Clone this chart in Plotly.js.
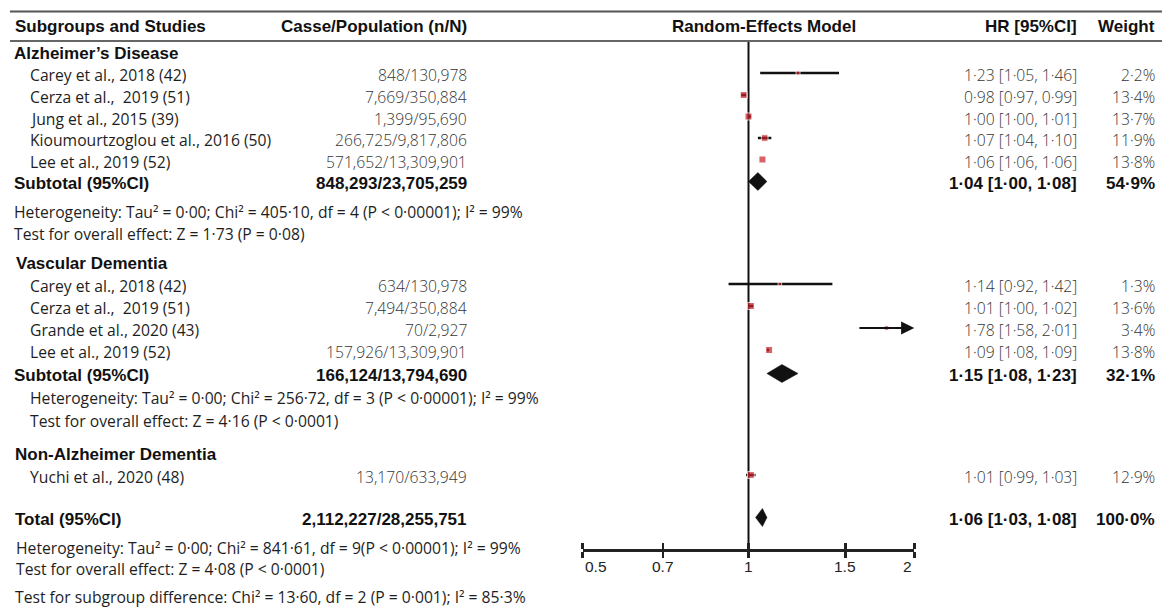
<!DOCTYPE html>
<html><head><meta charset="utf-8">
<script src="https://cdn.plot.ly/plotly-3.0.1.min.js"></script>
<style>html,body{margin:0;padding:0;background:#fff}#chart{width:1162px;height:609px}</style>
</head><body><div id="chart"></div>
<script>
// ---------------- data ----------------
const groups = ["Alzheimer’s Disease", "Vascular Dementia", "Non-Alzheimer Dementia"];
const studies = ["Carey et al., 2018 (42)", "Cerza et al.,\u00a0 2019 (51)", "Jung et al., 2015 (39)",
  "Kioumourtzoglou et al., 2016 (50)", "Lee et al., 2019 (52)",
  "Carey et al., 2018 (42)", "Cerza et al.,\u00a0 2019 (51)", "Grande et al., 2020 (43)", "Lee et al., 2019 (52)",
  "Yuchi et al., 2020 (48)"];
const cases = ["848/130,978", "7,669/350,884", "1,399/95,690", "266,725/9,817,806", "571,652/13,309,901",
  "634/130,978", "7,494/350,884", "70/2,927", "157,926/13,309,901", "13,170/633,949"];
const hr = [1.23, 0.98, 1.00, 1.07, 1.06, 1.14, 1.01, 1.78, 1.09, 1.01];
const hrLo = [1.05, 0.97, 1.00, 1.04, 1.06, 0.92, 1.00, 1.58, 1.08, 0.99];
const hrHi = [1.46, 0.99, 1.01, 1.10, 1.06, 1.42, 1.02, 2.01, 1.09, 1.03];
const weight = [2.2, 13.4, 13.7, 11.9, 13.8, 1.3, 13.6, 3.4, 13.8, 12.9];
const pooledLabels = ["Subtotal (95%CI)", "Subtotal (95%CI)", "Total (95%CI)"];
const pooledCases = ["848,293/23,705,259", "166,124/13,794,690", "2,112,227/28,255,751"];
const pooledHr = [1.04, 1.15, 1.06];
const pooledLo = [1.00, 1.08, 1.03];
const pooledHi = [1.08, 1.23, 1.08];
const pooledWeight = [54.9, 32.1, 100.0];
const hetText = [
  "Heterogeneity: Tau² = 0·00; Chi² = 405·10, df = 4 (P < 0·00001); I² = 99%",
  "Heterogeneity: Tau² = 0·00; Chi² = 256·72, df = 3 (P < 0·00001); I² = 99%",
  "Heterogeneity: Tau² = 0·00; Chi² = 841·61, df = 9(P < 0·00001); I² = 99%"];
const overallText = [
  "Test for overall effect: Z = 1·73 (P = 0·08)",
  "Test for overall effect: Z = 4·16 (P < 0·0001)",
  "Test for overall effect: Z = 4·08 (P < 0·0001)"];
const subgroupText = "Test for subgroup difference: Chi² = 13·60, df = 2 (P = 0·001); I² = 85·3%";
const headers = ["Subgroups and Studies", "Casse/Population (n/N)", "Random-Effects Model", "HR [95%CI]", "Weight"];
const tickVals = [0.5, 0.7, 1, 1.5, 2];
const tickText = ["0.5", "0.7", "1", "1.5", "2"];
const xMin = 0.5, xMax = 2;

// ---------------- layout (pixel positions) ----------------
const W = 1162, H = 609;
const studyRowY = [75, 97, 118.5, 140, 161.5, 286, 308, 330, 352, 477];
const groupHeadY = [53, 263, 454];
const groupHeadX = [12, 14, 13];
const pooledRowY = [183, 375, 519];
const pooledX = [12, 12, 13];
const hetY = [212, 398, 548], overallY = [234, 421, 569], textIndent = [12, 28, 14];
const subgroupY = 597;
const markShift = -2;
const axisY = 550, headY = 26, line1Y = 11.5, line2Y = 41;
const colCasesR = 469, colHrR = 1079, colWR = 1157, studyX = 28;
const plotL = 582.7, plotR = 914.3;

const REG = "Open Sans, Noto Sans, sans-serif";
const BOLD = "Liberation Sans, Arial, sans-serif";
const fmt2 = v => v.toFixed(2).replace('.', '·');
const fmt1 = v => v.toFixed(1).replace('.', '·');
const ciTxt = (e, l, h) => `${fmt2(e)} [${fmt2(l)}, ${fmt2(h)}]`;

const ann = [];
function txt(x, y, text, opt) {
  ann.push(Object.assign({xref: 'x', yref: 'y', x: x, y: y, text: text, showarrow: false,
    xanchor: 'left', yanchor: 'middle', font: {family: REG, size: 15.7, color: '#1e1e1e'}}, opt || {}));
}
const boldFont = {family: BOLD, size: 17, color: '#111'};
const valFont = {family: REG, size: 15.7, color: '#363636', weight: 300};

// headers
txt(12.5, headY, '<b>' + headers[0] + '</b>', {font: boldFont});
txt(colCasesR, headY, '<b>' + headers[1] + '</b>', {font: boldFont, xanchor: 'right'});
txt(763.5, headY, '<b>' + headers[2] + '</b>', {font: boldFont, xanchor: 'center'});
txt(colHrR, headY, '<b>' + headers[3] + '</b>', {font: boldFont, xanchor: 'right'});
txt(colWR, headY, '<b>' + headers[4] + '</b>', {font: boldFont, xanchor: 'right'});

groups.forEach((g, i) => txt(groupHeadX[i], groupHeadY[i], '<b>' + g + '</b>', {font: boldFont}));
studies.forEach((s, i) => {
  txt(studyX, studyRowY[i], s);
  txt(colCasesR, studyRowY[i], cases[i], {xanchor: 'right', font: valFont});
  txt(colHrR, studyRowY[i], ciTxt(hr[i], hrLo[i], hrHi[i]), {xanchor: 'right', font: valFont});
  txt(colWR, studyRowY[i], fmt1(weight[i]) + '%', {xanchor: 'right', font: valFont});
});
pooledLabels.forEach((p, i) => {
  txt(pooledX[i], pooledRowY[i], '<b>' + p + '</b>', {font: boldFont});
  txt(colCasesR, pooledRowY[i], '<b>' + pooledCases[i] + '</b>', {font: boldFont, xanchor: 'right'});
  txt(colHrR, pooledRowY[i], '<b>' + ciTxt(pooledHr[i], pooledLo[i], pooledHi[i]) + '</b>', {font: boldFont, xanchor: 'right'});
  txt(colWR, pooledRowY[i], '<b>' + fmt1(pooledWeight[i]) + '%</b>', {font: boldFont, xanchor: 'right'});
});
hetText.forEach((t, i) => txt(textIndent[i], hetY[i], t));
overallText.forEach((t, i) => txt(textIndent[i], overallY[i], t));
txt(13, subgroupY, subgroupText);

// tick labels
tickVals.forEach((v, i) => {
  const anchor = i === 0 ? 'left' : (i === tickVals.length - 1 ? 'right' : 'center');
  ann.push({xref: 'x2', yref: 'y', x: Math.log10(v), y: 566, text: tickText[i], showarrow: false,
    xanchor: anchor, yanchor: 'middle', font: {family: BOLD, size: 15.5, color: '#222'}});
});

// ---------------- traces ----------------
const markY = studyRowY.map(y => y + markShift);
const ciX = [], ciY = [];
hr.forEach((v, i) => {
  if (hrHi[i] > xMax) {
    ann.push({xref: 'x2', yref: 'y', axref: 'x2', ayref: 'y', x: Math.log10(xMax), y: markY[i],
      ax: Math.log10(hrLo[i]), ay: markY[i], text: '', showarrow: true, arrowhead: 2, arrowsize: 1.2,
      arrowwidth: 2.2, arrowcolor: '#111', standoff: 0, startstandoff: 0});
  } else {
    ciX.push(hrLo[i], hrHi[i], null); ciY.push(markY[i], markY[i], null);
  }
});
const traces = [];
traces.push({x: [1, 1], y: [line2Y, axisY], xaxis: 'x2', yaxis: 'y', mode: 'lines',
  line: {color: '#111', width: 2}, hoverinfo: 'skip', cliponaxis: false});
traces.push({x: ciX, y: ciY, xaxis: 'x2', yaxis: 'y', mode: 'lines', line: {color: '#111', width: 2.5},
  hoverinfo: 'skip', cliponaxis: false});
traces.push({x: hr, y: markY, xaxis: 'x2', yaxis: 'y', mode: 'markers',
  marker: {symbol: 'square', color: '#c8202a', size: weight.map(w => 2 + 1.35 * Math.sqrt(w))},
  hoverinfo: 'skip', cliponaxis: false});
const dh = 9;
pooledHr.forEach((v, i) => {
  const y = pooledRowY[i] - 1.5;
  traces.push({x: [pooledLo[i], v, pooledHi[i], v, pooledLo[i]], y: [y, y - dh, y, y + dh, y],
    xaxis: 'x2', yaxis: 'y', mode: 'lines', fill: 'toself', fillcolor: '#111',
    line: {color: '#111', width: 0.5}, hoverinfo: 'skip'});
});
traces.push({x: [], y: [], xaxis: 'x3', yaxis: 'y', mode: 'markers'});

const axBase = {type: 'log', range: [Math.log10(xMin), Math.log10(xMax)], showgrid: false, zeroline: false,
  showline: true, linecolor: '#222', linewidth: 2.5, ticks: 'outside', ticklen: 6, tickwidth: 2.5,
  tickcolor: '#222', tickvals: tickVals, showticklabels: false, fixedrange: true};

const layout = {
  width: W, height: H, margin: {l: 0, r: 0, t: 0, b: 0}, paper_bgcolor: '#fff', plot_bgcolor: 'rgba(0,0,0,0)',
  showlegend: false,
  xaxis: {range: [0, W], domain: [0, 1], visible: false, fixedrange: true},
  yaxis: {range: [H, 0], domain: [0, 1], visible: false, fixedrange: true},
  xaxis2: Object.assign({}, axBase, {domain: [plotL / W, plotR / W], anchor: 'free', position: (H - axisY) / H, side: 'bottom'}),
  xaxis3: Object.assign({}, axBase, {overlaying: 'x2', anchor: 'free', position: (H - axisY) / H, side: 'top'}),
  shapes: [
    {type: 'line', xref: 'x', yref: 'y', x0: 10, x1: W, y0: line1Y, y1: line1Y, line: {color: '#555', width: 2}},
    {type: 'line', xref: 'x', yref: 'y', x0: 10, x1: W, y0: line2Y, y1: line2Y, line: {color: '#666', width: 2}}
  ],
  annotations: ann
};
Plotly.newPlot('chart', traces, layout, {displayModeBar: false, staticPlot: true});
</script></body></html>
